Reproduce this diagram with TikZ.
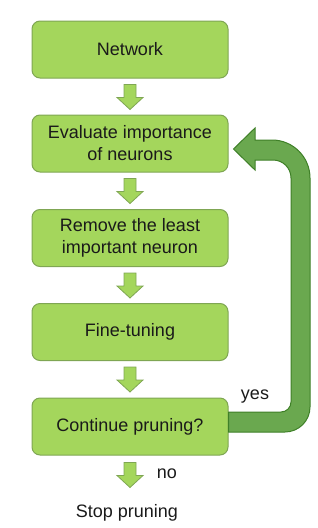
\documentclass[tikz,border=0pt]{standalone}
\usepackage{fontspec}
\setmainfont{Liberation Sans}
\usetikzlibrary{calc}
\definecolor{boxfill}{HTML}{A4D65C}
\definecolor{boxline}{HTML}{7FA653}
\definecolor{bigfill}{HTML}{6AA84F}
\definecolor{bigline}{HTML}{3F8028}
\definecolor{txt}{HTML}{1A1A1A}
\tikzset{
  stepbox/.style={draw=boxline, line width=1pt, fill=boxfill, rounded corners=8pt,
    minimum width=196pt, minimum height=57pt, inner sep=0pt, align=center,
    text=txt, font=\fontsize{18}{22}\selectfont},
  plain/.style={text=txt, font=\fontsize{18}{22}\selectfont, inner sep=0pt},
  smallarrow/.style={draw=boxline, line width=0.8pt, fill=boxfill, line join=miter},
  bigarrow/.style={draw=bigline, line width=1pt, fill=bigfill, line join=miter}
}
\newcommand{\blockarrow}[2]{%
  \coordinate (t) at ($(#1)+(0,#2)$);
  \draw[smallarrow] ($(t)+(-6,0)$) -- ($(t)+(6,0)$) -- ($(t)+(6,13)$) -- ($(t)+(13,13)$)
    -- ($(t)+(0,25)$) -- ($(t)+(-13,13)$) -- ($(t)+(-6,13)$) -- cycle;}
\begin{document}
\begin{tikzpicture}[x=1pt,y=-1pt]
\useasboundingbox (0,0) rectangle (318,528);
\node[stepbox] (net) at (130,49.5) {Network};
\node[stepbox] (eval) at (130,143.5) {Evaluate importance\\of neurons};
\node[stepbox] (rem) at (130,238) {Remove the least\\important neuron};
\node[stepbox] (fine) at (130,332) {Fine-tuning};
\node[stepbox] (cont) at (130,426.5) {Continue pruning?};
\node[plain] (stop) at (127,513) {Stop pruning};
\node[plain] (no) at (167,474) {no};
\node[plain] (yes) at (255,397) {yes};
\blockarrow{net.south}{6}
\blockarrow{eval.south}{6}
\blockarrow{rem.south}{6}
\blockarrow{fine.south}{6}
\blockarrow{cont.south}{7}
% big feedback arrow from cont to eval
\coordinate (s) at (cont.east);
\coordinate (e) at (eval.east);
\draw[bigarrow] ($(s)+(0,5.5)$) -- (285,432)
  .. controls (298.8,432) and (310,420.8) .. (310,407)
  -- (310,178)
  .. controls (310,157) and (293,140) .. (272,140)
  -- (255,140) -- (255,128) -- ($(e)+(5,5.5)$) -- (255,170) -- (255,160) -- (273,160)
  .. controls (283,160) and (291,168) .. (291,178)
  -- (291,402)
  .. controls (291,407.5) and (286.5,412) .. (281,412)
  -- ($(s)+(0,-14.5)$) -- cycle;
\end{tikzpicture}
\end{document}
